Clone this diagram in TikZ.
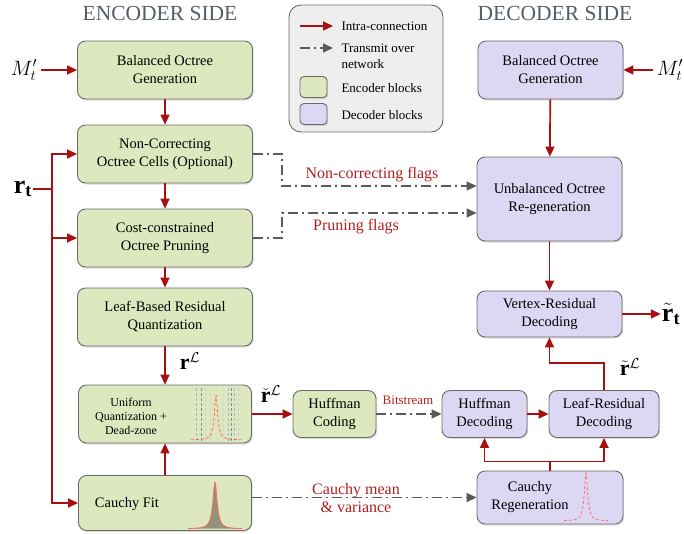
\documentclass[tikz,border=0pt]{standalone}
\usepackage{fontspec}
\setmainfont{Liberation Serif}
\usepackage{amsmath}
\usetikzlibrary{arrows.meta,shadows}

\definecolor{encfill}{RGB}{222,232,190}
\definecolor{decfill}{RGB}{220,215,243}
\definecolor{blockline}{RGB}{106,106,106}
\definecolor{intrared}{RGB}{168,15,16}
\definecolor{labelred}{RGB}{176,32,32}
\definecolor{netgray}{RGB}{90,90,90}
\definecolor{titlegray}{RGB}{85,93,102}
\definecolor{legendfill}{RGB}{238,238,238}
\definecolor{fitgreen}{RGB}{145,148,122}

\tikzset{
  block/.style={draw=blockline, line width=0.9pt, rounded corners=8pt, align=center,
    font=\fontsize{14.5}{18}\selectfont,
    drop shadow={shadow xshift=1.2pt, shadow yshift=-1.5pt, opacity=0.25}},
  encblock/.style={block, fill=encfill},
  decblock/.style={block, fill=decfill},
  intra/.style={draw=intrared, line width=1.7pt, -{Triangle[length=10pt,width=9pt]}},
  intraline/.style={draw=intrared, line width=1.7pt},
  transmit/.style={draw=netgray, line width=1.5pt,
    dash pattern=on 10pt off 4pt on 2pt off 4pt, -{Triangle[length=10pt,width=9pt]}},
  flaglabel/.style={text=labelred, font=\fontsize{16}{18}\selectfont, align=center},
  legendtext/.style={anchor=west, align=left, font=\fontsize{13}{16}\selectfont},
  sidetitle/.style={text=titlegray, font=\fontsize{21.5}{24}\selectfont},
}

\begin{document}
\begin{tikzpicture}[x=1pt, y=-1pt]
        \useasboundingbox (0,0) rectangle (684,533);

        % titles
        \node[sidetitle] (enctitle) at (160,13) {ENCODER SIDE};
        \node[sidetitle] (dectitle) at (555,13) {DECODER SIDE};

        % legend
        \node[draw=blockline, fill=legendfill, line width=0.9pt, rounded corners=12pt,
              minimum width=154pt, minimum height=127pt] (legend) at (366,68.5) {};
        \coordinate (lgintraA) at (300,26);
        \coordinate (lgintraB) at (333,26);
        \coordinate (lgnetA) at (300,48);
        \coordinate (lgnetB) at (333,48);
        \draw[intra] (lgintraA) -- (lgintraB);
        \draw[transmit] (lgnetA) -- (lgnetB);
        \node[legendtext] (lgintra) at (338,26) {Intra-connection};
        \node[legendtext] (lgnet) at (338,56) {Transmit over\\network};
        \node[encblock, rounded corners=4pt, minimum width=27pt, minimum height=21pt] (lgenc) at (313.5,87) {};
        \node[decblock, rounded corners=4pt, minimum width=27pt, minimum height=21pt] (lgdec) at (313.5,114) {};
        \node[legendtext] (lgenctext) at (338,88) {Encoder blocks};
        \node[legendtext] (lgdectext) at (338,115) {Decoder blocks};

        % encoder side
        \node[encblock, minimum width=175pt, minimum height=58pt] (encbal) at (165,70) {Balanced Octree\\Generation};
        \node[encblock, minimum width=175pt, minimum height=58pt] (noncorr) at (165,154) {Non-Correcting\\Octree Cells (Optional)};
        \node[encblock, minimum width=175pt, minimum height=58pt] (prune) at (165,238) {Cost-constrained\\Octree Pruning};
        \node[encblock, minimum width=175pt, minimum height=58pt] (leafq) at (165,317) {Leaf-Based Residual\\Quantization};
        \node[encblock, minimum width=173pt, minimum height=58pt] (unifq) at (165,414) {};
        \node[align=center, font=\fontsize{12}{14}\selectfont] (unifqtext) at (131,416) {Uniform\\Quantization +\\Dead-zone};
        \node[encblock, minimum width=173pt, minimum height=55pt] (cfit) at (165,503) {};
        \node[font=\fontsize{14.5}{18}\selectfont] (cfittext) at (127,504) {Cauchy Fit};
        \node[encblock, minimum width=83pt, minimum height=47pt] (hcode) at (334.5,414) {Huffman\\Coding};

        % decoder side
        \node[decblock, minimum width=145pt, minimum height=58pt] (decbal) at (550.5,70) {Balanced Octree\\Generation};
        \node[decblock, minimum width=145pt, minimum height=84pt] (unbal) at (549.5,199) {Unbalanced Octree\\Re-generation};
        \node[decblock, minimum width=145pt, minimum height=46pt] (vres) at (549.5,314) {Vertex-Residual\\Decoding};
        \node[decblock, minimum width=85pt, minimum height=47pt] (hdec) at (484.5,414) {Huffman\\Decoding};
        \node[decblock, minimum width=110pt, minimum height=47pt] (lres) at (604,414) {Leaf-Residual\\Decoding};
        \node[decblock, minimum width=146pt, minimum height=53pt] (creg) at (550,497.5) {};
        \node[align=center, font=\fontsize{14.5}{18}\selectfont] (cregtext) at (530,497) {Cauchy\\Regeneration};

        % small plots
        \foreach \dx/\col in {-20/blue!35, -15/green!40!black!60, -11/gray!40, -6/gray!35, 7/gray!35, 12/blue!35, 15/green!40!black!60, 18/blue!35, 22/gray!40}
            \draw[\col, densely dashed, line width=0.5pt] ({216+\dx},388) -- ({216+\dx},441);
        \draw[red!65, densely dashed, line width=0.7pt] plot[domain=-25:25, samples=126, smooth] ({216+\x},{440-45/(1+(\x/2)^2)});
        \fill[fitgreen] plot[domain=-27:27, samples=136, smooth] ({215+\x},{529-47/(1+(\x/2.5)^2)}) -- cycle;
        \draw[red!60, line width=0.8pt] plot[domain=-27:27, samples=136, smooth] ({215+\x},{529-47/(1+(\x/2.5)^2)});
        \draw[red!60, densely dashed, line width=0.7pt] plot[domain=-22:22, samples=111, smooth] ({586+\x},{521-48/(1+(\x/2)^2)});

        % outer labels
        \node[font=\fontsize{20}{22}\selectfont] (mleft) at (24,70) {$M'_t$};
        \node[font=\fontsize{20}{22}\selectfont] (mright) at (670,70) {$M'_t$};
        \node[font=\fontsize{26}{28}\selectfont, inner sep=1pt] (rt) at (23,189) {$\mathbf{r}_{\mathbf{t}}$};
        \coordinate (rtsplit) at (52,189);
        \node[font=\fontsize{26}{28}\selectfont, inner sep=1pt] (rtil) at (671,314) {$\tilde{\mathbf{r}}_{\mathbf{t}}$};
        \node[font=\fontsize{22}{24}\selectfont] (rleaf) at (190,361) {$\mathbf{r}^{\mathcal{L}}$};
        \node[font=\fontsize{22}{24}\selectfont] (rcheck) at (271,394) {$\check{\mathbf{r}}^{\mathcal{L}}$};
        \node[font=\fontsize{22}{24}\selectfont] (rtleaf) at (630,367) {$\tilde{\mathbf{r}}^{\mathcal{L}}$};

        % transmitted data
        \node[flaglabel] (ncflags) at (372,175) {Non-correcting flags};
        \node[flaglabel] (prflags) at (356,227) {Pruning flags};
        \node[flaglabel] (cauchypar) at (356,498) {Cauchy mean\\\& variance};
        \node[flaglabel, font=\fontsize{13}{15}\selectfont] (bitstream) at (408,400) {Bitstream};

        % encoder connections
        \draw[intra] (mleft) -- (encbal);
        \draw[intra] (encbal) -- (noncorr);
        \draw[intra] (noncorr) -- (prune);
        \draw[intra] (prune) -- (leafq);
        \draw[intra] (leafq) -- (unifq);
        \draw[intra] (cfit) -- (unifq);
        \draw[intra] (unifq) -- (hcode);
        \draw[intraline] (rt) -- (rtsplit);
        \draw[intra] (rtsplit) |- (noncorr);
        \draw[intra] (rtsplit) |- (prune);
        \draw[intra] (rtsplit) |- (cfit);

        % over the network
        \draw[transmit] (noncorr.east) -- ++(29,0) |- ([yshift=13pt]unbal.west);
        \draw[transmit] (prune.east) -- ++(29,0) |- ([yshift=-14pt]unbal.west);
        \draw[transmit] (hcode) -- (hdec);
        \draw[transmit] (cfit.east |- creg) -- (creg);

        % decoder connections
        \draw[intra] (mright) -- (decbal);
        \draw[intra] (decbal) -- (unbal);
        \draw[intra] (unbal) -- (vres);
        \draw[intra] (vres) -- (rtil);
        \draw[intra] (hdec) -- (lres);
        \draw[intraline] (creg.north) -- ++(0,-9) coordinate (cregsplit);
        \draw[intra] (cregsplit) -| (hdec);
        \draw[intra] (cregsplit) -| (lres);
        \draw[intra] (lres.north) -- ++(0,-27) -| (vres);
    \end{tikzpicture}
\end{document}
